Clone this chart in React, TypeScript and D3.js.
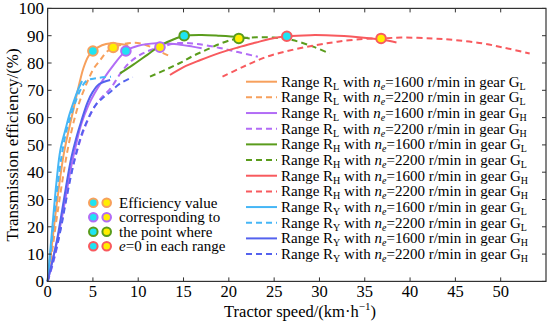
import * as d3 from 'd3';

const W = 550;
const H = 324;
const margin = { top: 8.4, right: 4, bottom: 42.6, left: 47.6 };

const speedTicks = [0, 5, 10, 15, 20, 25, 30, 35, 40, 45, 50];
const effTicks = [0, 10, 20, 30, 40, 50, 60, 70, 80, 90, 100];

// [tractor speed km/h, efficiency %]
const rlGl1600 = [[0, 0], [0.5, 14], [1, 28], [1.8, 47], [2.84, 62.8], [3.4, 71], [3.94, 78], [4.5, 82.5], [5, 84.4], [6, 86.5], [7, 87.2], [8, 87], [8.9, 86.4]];
const rlGl2200 = [[0, 0], [0.5, 11], [1, 23], [2.2, 48], [3, 60], [3.65, 67], [4.5, 74], [5.1, 78], [5.8, 81], [6.5, 84], [7.24, 85.7], [8.5, 87], [9.5, 87.4], [10.5, 87], [11.5, 85.7], [12.5, 84], [13.3, 82.8]];
const rlGh1600 = [[0, 0], [0.5, 7], [1, 14], [1.5, 22], [2, 31], [2.6, 42], [3.2, 51], [3.7, 57.5], [4.5, 64.5], [5.2, 69], [5.85, 72.5], [7, 78], [8.64, 84.4], [10, 86.3], [12, 87.2], [14, 87], [16, 86], [17, 85.4]];
const rlGh2200 = [[0, 0], [0.5, 5.5], [1, 12], [1.8, 26], [2.5, 38], [3.27, 48], [4, 55.5], [5.1, 63.5], [6, 67.5], [6.95, 70.7], [8, 76], [9, 80], [10.5, 83.5], [12.4, 85.8], [14.5, 87.3], [16.5, 87], [19, 85.5], [21, 84], [23.2, 82.3]];
const rhGl1600 = [[8, 76.2], [9.5, 79.5], [11, 83], [12.5, 86.5], [14, 88.8], [15.07, 90], [17, 90.3], [19, 90], [21.1, 89.5], [22.3, 89]];
const rhGl2200 = [[11.3, 75], [13, 77.5], [14.6, 80], [16, 82.5], [17.5, 84.8], [19, 87], [20.3, 88.5], [21.1, 89], [23, 89.4], [25, 89.3], [27, 88.4], [29.3, 86], [31.1, 83.5]];
const rhGh1600 = [[13.5, 75.6], [15, 78.5], [16.8, 81], [19, 83.7], [21, 85.7], [23, 87.5], [24.5, 88.8], [26.4, 89.8], [29, 90.2], [32, 90], [35.2, 89.2], [37, 88.5], [38.5, 87.5]];
const rhGh2200 = [[19.3, 75], [21.5, 78.5], [24.2, 82.3], [27, 84.8], [29.7, 86.6], [32, 87.8], [34.8, 88.8], [36.8, 89], [39, 89.3], [42.5, 89], [45, 88.4], [48, 87.2], [50.5, 85.5], [53.2, 83.5]];
const ryGl1600 = [[0, 0], [0.5, 19], [1, 37], [1.4, 48], [2, 56], [2.4, 61], [3, 67], [3.4, 70.5], [3.8, 73.4]];
const ryGl2200 = [[0, 0], [0.5, 16], [1, 32], [1.5, 45], [2, 54], [2.5, 60], [3, 65], [3.6, 70], [4.3, 73.5], [5.5, 74.5], [7, 75]];
const ryGh1600 = [[0, 0], [0.5, 7], [1, 14.5], [1.5, 24], [2, 34], [2.6, 45], [3.2, 53], [3.7, 58.5], [4.4, 65.5], [5, 69.5], [5.7, 72.3], [6.9, 73.8]];
const ryGh2200 = [[0, 0], [0.5, 6], [1, 12.5], [1.5, 20], [2, 29], [2.6, 39], [3.2, 47.5], [4, 56], [5.3, 64.6], [6.2, 67.5], [6.95, 69.5], [8, 72.5], [9.4, 74.8]];

// points where e = 0
const pts1600 = [[5, 84.4], [8.64, 84.4], [15.07, 90], [26.4, 89.8]];
const pts2200 = [[7.24, 85.7], [12.4, 85.8], [21.1, 89], [36.8, 89]];

const orange = '#F7A05C';
const purple = '#B26CF6';
const green = '#5A9C1C';
const red = '#F85A5E';
const cyan = '#45B6F6';
const blue = '#5462EE';
const ringColors = [orange, purple, green, red];
const dotCyan = '#1EE4F2';
const dotYellow = '#FFEE00';

const series = [
  { range: 'L', n: 1600, gear: 'L', color: orange, dashed: false, data: rlGl1600 },
  { range: 'L', n: 2200, gear: 'L', color: orange, dashed: true, data: rlGl2200 },
  { range: 'L', n: 1600, gear: 'H', color: purple, dashed: false, data: rlGh1600 },
  { range: 'L', n: 2200, gear: 'H', color: purple, dashed: true, data: rlGh2200 },
  { range: 'H', n: 1600, gear: 'L', color: green, dashed: false, data: rhGl1600 },
  { range: 'H', n: 2200, gear: 'L', color: green, dashed: true, data: rhGl2200 },
  { range: 'H', n: 1600, gear: 'H', color: red, dashed: false, data: rhGh1600 },
  { range: 'H', n: 2200, gear: 'H', color: red, dashed: true, data: rhGh2200 },
  { range: 'Y', n: 1600, gear: 'L', color: cyan, dashed: false, data: ryGl1600 },
  { range: 'Y', n: 2200, gear: 'L', color: cyan, dashed: true, data: ryGl2200 },
  { range: 'Y', n: 1600, gear: 'H', color: blue, dashed: false, data: ryGh1600 },
  { range: 'Y', n: 2200, gear: 'H', color: blue, dashed: true, data: ryGh2200 },
];

const noteLines = ['Efficiency value', 'corresponding to', 'the point where', 'e=0 in each range'];

const font = '"Liberation Serif", "Times New Roman", serif';

export default function App() {
  const x = d3.scaleLinear().domain([0, 55]).range([margin.left, W - margin.right]);
  const y = d3.scaleLinear().domain([0, 100]).range([H - margin.bottom, margin.top]);
  const line = d3
    .line<number[]>()
    .x((d) => x(d[0]))
    .y((d) => y(d[1]))
    .curve(d3.curveCatmullRom.alpha(0.5));

  const x0 = x(0);
  const x1 = x(55);
  const y0 = y(0);
  const y1 = y(100);
  const tick = 4;

  return (
    <svg width={W} height={H} style={{ position: 'absolute', left: 0, top: 0, fontFamily: font }}>
      <rect width={W} height={H} fill="#fff" />

      {series.map((s, i) => (
        <path
          key={i}
          d={line(s.data) ?? ''}
          fill="none"
          stroke={s.color}
          strokeWidth={2}
          strokeDasharray={s.dashed ? '6,4' : undefined}
        />
      ))}

      {pts1600.map((p, i) => (
        <circle key={'a' + i} cx={x(p[0])} cy={y(p[1])} r={4.8} fill={dotCyan} stroke={ringColors[i]} strokeWidth={2} />
      ))}
      {pts2200.map((p, i) => (
        <circle key={'b' + i} cx={x(p[0])} cy={y(p[1])} r={4.8} fill={dotYellow} stroke={ringColors[i]} strokeWidth={2} />
      ))}

      {/* frame and inward ticks */}
      <rect x={x0} y={y1} width={x1 - x0} height={y0 - y1} fill="none" stroke="#333" strokeWidth={1.2} />
      {speedTicks.map((t) => (
        <g key={'xt' + t}>
          <line x1={x(t)} x2={x(t)} y1={y0} y2={y0 - tick} stroke="#333" />
          <line x1={x(t)} x2={x(t)} y1={y1} y2={y1 + tick} stroke="#333" />
          <text x={x(t)} y={297} fontSize={16.5} textAnchor="middle">{t}</text>
        </g>
      ))}
      {effTicks.map((t) => (
        <g key={'yt' + t}>
          <line x1={x0} x2={x0 + tick} y1={y(t)} y2={y(t)} stroke="#333" />
          <line x1={x1} x2={x1 - tick} y1={y(t)} y2={y(t)} stroke="#333" />
          <text x={44} y={y(t) + 6} fontSize={17} textAnchor="end">{t}</text>
        </g>
      ))}

      <text x={300} y={317} fontSize={16.5} textAnchor="middle">
        Tractor speed/(km·h
        <tspan fontSize={11} dy={-7}>−1</tspan>
        <tspan dy={7}>)</tspan>
      </text>
      <text transform={`translate(18,${(y0 + y1) / 2}) rotate(-90)`} fontSize={17} textAnchor="middle">
        Transmission efficiency/(%)
      </text>

      {/* series legend */}
      {series.map((s, i) => {
        const ly = 81.7 + i * 15.67;
        return (
          <g key={'lg' + i}>
            <line x1={246} x2={277} y1={ly} y2={ly} stroke={s.color} strokeWidth={2} strokeDasharray={s.dashed ? '6,4' : undefined} />
            <text x={281} y={ly + 5} fontSize={15}>
              Range R<tspan fontSize={10} dy={3}>{s.range}</tspan>
              <tspan dy={-3}> with </tspan>
              <tspan fontStyle="italic">n</tspan>
              <tspan fontStyle="italic" fontSize={10} dy={3}>e</tspan>
              <tspan dy={-3}>={s.n} r/min in gear G</tspan>
              <tspan fontSize={10} dy={3}>{s.gear}</tspan>
            </text>
          </g>
        );
      })}

      {/* marker legend */}
      {ringColors.map((c, i) => {
        const ly = 202.7 + i * 14.5;
        return (
          <g key={'ml' + i}>
            <circle cx={93.3} cy={ly} r={4.3} fill={dotCyan} stroke={c} strokeWidth={2} />
            <circle cx={106.7} cy={ly} r={4.3} fill={dotYellow} stroke={c} strokeWidth={2} />
            <text x={119} y={ly + 5} fontSize={15}>
              {i === 3 ? (
                <>
                  <tspan fontStyle="italic">e</tspan>
                  {noteLines[i].slice(1)}
                </>
              ) : (
                noteLines[i]
              )}
            </text>
          </g>
        );
      })}
    </svg>
  );
}
